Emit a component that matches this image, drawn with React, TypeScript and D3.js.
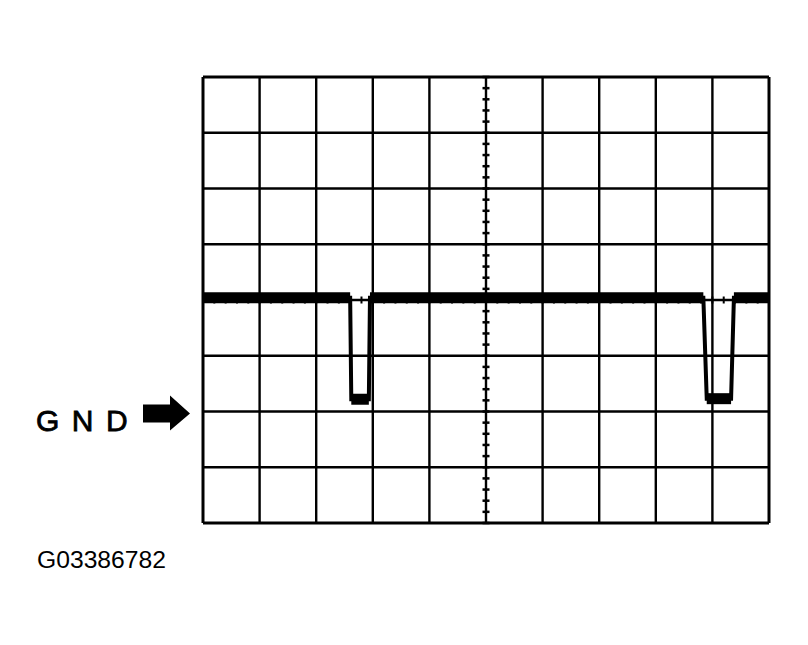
import {useEffect, useRef} from "react";
import * as d3 from 'd3';

// oscilloscope trace: time in divisions, voltage in divisions (0 = centre line)
const traceTime = [0, 2.6, 2.62, 2.93, 2.95, 8.84, 8.9, 9.33, 9.38, 10];
const traceVolt = [0.04, 0.04, -1.78, -1.78, 0.04, 0.04, -1.77, -1.77, 0.04, 0.04];

const timeDivs = [0, 1, 2, 3, 4, 5, 6, 7, 8, 9, 10];
const voltDivs = [-4, -3, -2, -1, 0, 1, 2, 3, 4];
const gndLevel = -2;
const gndLabel = 'GND';
const figureId = 'G03386782';

export default function App() {
  const svgRef = useRef(null);
  const width = 808;
  const height = 645;

  useEffect(() => {
    d3.select(svgRef.current).selectAll('*').remove();

    const svg = d3.select(svgRef.current)
      .attr('width', width)
      .attr('height', height);

    const margin = {top: 77, right: 39, bottom: 122, left: 203};

    const x = d3.scaleLinear()
      .domain([0, 10])
      .range([margin.left, width - margin.right]);

    const y = d3.scaleLinear()
      .domain([-4, 4])
      .range([height - margin.bottom, margin.top]);

    const g = svg.append('g');

    // grid
    g.selectAll('line.v')
      .data(timeDivs)
      .join('line')
      .attr('x1', d => x(d)).attr('x2', d => x(d))
      .attr('y1', y(4)).attr('y2', y(-4))
      .attr('stroke', '#000')
      .attr('stroke-width', d => (d === 0 || d === 10) ? 3 : 2.4);

    g.selectAll('line.h')
      .data(voltDivs)
      .join('line')
      .attr('y1', d => y(d)).attr('y2', d => y(d))
      .attr('x1', x(0)).attr('x2', x(10))
      .attr('stroke', '#000')
      .attr('stroke-width', d => (d === -4 || d === 4) ? 3 : 2.4);

    // minor ticks on the centre lines
    const vTicks = d3.range(-4, 4.001, 0.2);
    g.selectAll('line.vt')
      .data(vTicks)
      .join('line')
      .attr('x1', x(5) - 3.5).attr('x2', x(5) + 3.5)
      .attr('y1', d => y(d)).attr('y2', d => y(d))
      .attr('stroke', '#000')
      .attr('stroke-width', 2.5);

    const hTicks = d3.range(0, 10.001, 0.2);
    g.selectAll('line.ht')
      .data(hTicks)
      .join('line')
      .attr('y1', y(0) - 3.5).attr('y2', y(0) + 3.5)
      .attr('x1', d => x(d)).attr('x2', d => x(d))
      .attr('stroke', '#000')
      .attr('stroke-width', 2);

    // trace: thin edges, thick flat parts (as on the scope screen)
    const pts = traceTime.map((t, i) => [t, traceVolt[i]]);
    const line = d3.line()
      .x(d => x(d[0]))
      .y(d => y(d[1]));

    g.append('path')
      .datum(pts)
      .attr('fill', 'none')
      .attr('stroke', '#000')
      .attr('stroke-width', 4)
      .attr('stroke-linejoin', 'miter')
      .attr('d', line);

    const flats = pts.slice(1).map((p, i) => [pts[i], p]).filter(s => s[0][1] === s[1][1]);
    g.selectAll('path.flat')
      .data(flats)
      .join('path')
      .attr('fill', 'none')
      .attr('stroke', '#000')
      .attr('stroke-width', 11)
      .attr('d', s => line(s));

    // GND marker
    const gy = y(gndLevel) + 2;
    g.append('text')
      .attr('x', 36)
      .attr('y', gy + 17)
      .attr('font-family', 'Arial, "Liberation Sans", sans-serif')
      .attr('font-size', 30)
      .attr('stroke', '#000')
      .attr('stroke-width', 0.8)
      .attr('letter-spacing', 12.5)
      .attr('fill', '#000')
      .text(gndLabel);

    const ax0 = 143, ax1 = 190, ah = 170;
    g.append('path')
      .attr('d', `M${ax0},${gy - 9}L${ah},${gy - 9}L${ah},${gy - 18}L${ax1},${gy}L${ah},${gy + 17}L${ah},${gy + 9}L${ax0},${gy + 9}Z`)
      .attr('fill', '#000');

    g.append('text')
      .attr('x', 37)
      .attr('y', 568)
      .attr('font-family', 'Arial, "Liberation Sans", sans-serif')
      .attr('font-size', 23.5)
      .attr('textLength', 129)
      .attr('lengthAdjust', 'spacingAndGlyphs')
      .attr('fill', '#000')
      .text(figureId);
  }, []);

  return (
    <div>
      <svg ref={svgRef} style={{position: 'absolute', left: 0, top: 0, background: '#fff'}}></svg>
    </div>
  );
}
